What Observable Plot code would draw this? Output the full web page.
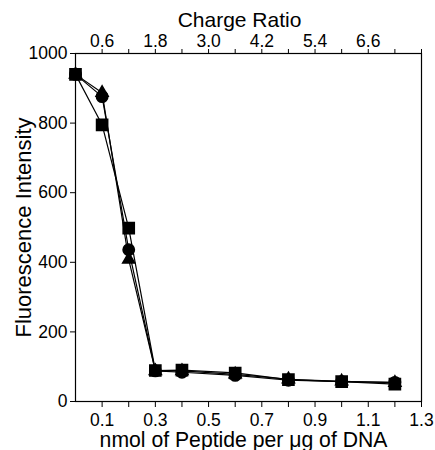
<!DOCTYPE html>
<html>
<head>
<meta charset="utf-8">
<script src="https://cdn.jsdelivr.net/npm/d3@7"></script>
<script src="https://cdn.jsdelivr.net/npm/@observablehq/plot@0.6"></script>
<style>
  html, body { margin: 0; padding: 0; background: white; }
</style>
</head>
<body>
<div id="chart"></div>
<script>
const peptide = [0, 0.1, 0.2, 0.3, 0.4, 0.6, 0.8, 1.0, 1.2];
const squareSeries = [940, 795, 498, 89, 90, 82, 63, 57, 50];
const circleSeries = [940, 876, 436, 88, 84, 75, 61, 57, 55];
const triangleSeries = [940, 887, 408, 88, 88, 78, 64, 58, 54];

const bottomMajor = [0.1, 0.3, 0.5, 0.7, 0.9, 1.1, 1.3];
const bottomMinor = [0.2, 0.4, 0.6, 0.8, 1.0, 1.2];
const topMajorRatio = [0.6, 1.8, 3.0, 4.2, 5.4, 6.6];
const topMinorRatio = [1.2, 2.4, 3.6, 4.8, 6.0, 7.2, 7.8];
const yTicks = [0, 200, 400, 600, 800, 1000];
const ratioPerNmol = 6;

const series = [
  {name: "triangle", values: triangleSeries},
  {name: "circle", values: circleSeries},
  {name: "square", values: squareSeries}
];
const data = series.flatMap(s => s.values.map((v, i) => ({x: peptide[i], y: v, s: s.name})));
const markerRadius = {square: 6.3, circle: 5.7, triangle: 4.5};

const font = "'Liberation Sans', Arial, Helvetica, sans-serif";

const chart = Plot.plot({
  width: 435,
  height: 450,
  marginLeft: 75,
  marginRight: 14,
  marginTop: 53,
  marginBottom: 49,
  style: {fontFamily: font, fontSize: "17px", background: "white", color: "black", overflow: "visible"},
  x: {domain: [0, 1.3]},
  y: {domain: [0, 1000]},
  r: {type: "identity"},
  symbol: {domain: ["square", "circle", "triangle"], range: ["square", "circle", "triangle"]},
  marks: [
    Plot.frame({stroke: "black", strokeWidth: 1.2}),
    Plot.axisX({anchor: "bottom", ticks: bottomMajor, tickFormat: d => d.toFixed(1), tickSize: 6, tickPadding: 6, label: null}),
    Plot.axisX({anchor: "bottom", ticks: bottomMinor, tickFormat: () => "", tickSize: 6, label: null}),
    Plot.axisX({anchor: "top", ticks: topMajorRatio.map(r => r / ratioPerNmol), tickFormat: d => (d * ratioPerNmol).toFixed(1), tickSize: 5, tickPadding: 2, label: null}),
    Plot.axisX({anchor: "top", ticks: topMinorRatio.map(r => r / ratioPerNmol), tickFormat: () => "", tickSize: 5, label: null}),
    Plot.axisY({ticks: yTicks, tickFormat: d => String(d), tickSize: 5, tickPadding: 3, label: null}),
    Plot.line(data, {x: "x", y: "y", z: "s", stroke: "black", strokeWidth: 1.2}),
    Plot.dot(data, {x: "x", y: "y", symbol: "s", fill: "black", stroke: "black", r: d => markerRadius[d.s]}),
    Plot.text(["Charge Ratio"], {frameAnchor: "top", textAnchor: "middle", dy: -33.5, dx: -9, fontSize: 21, lineAnchor: "middle"}),
    Plot.text(["nmol of Peptide per μg of DNA"], {frameAnchor: "bottom", textAnchor: "middle", dy: 38.5, dx: -5, fontSize: 21.2, lineAnchor: "middle"}),
    Plot.text(["Fluorescence Intensity"], {frameAnchor: "left", textAnchor: "middle", dx: -52, rotate: -90, fontSize: 22, lineAnchor: "middle"})
  ]
});
document.getElementById("chart").appendChild(chart);
d3.select(chart).selectAll("text")
  .filter(function() { return /^[\d.,]+$/.test(this.textContent.trim()); })
  .style("font-size", "17.5px");
</script>
</body>
</html>
